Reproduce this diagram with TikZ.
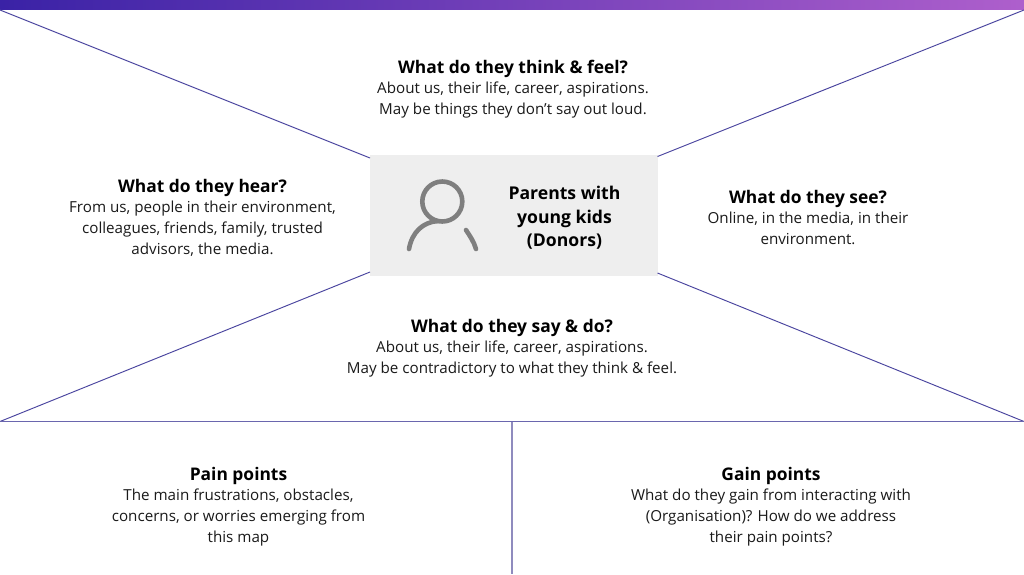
\documentclass[tikz,border=0pt]{standalone}
\usepackage{fontspec}
\setmainfont{Open Sans}
\definecolor{lineblue}{HTML}{4A459F}
\definecolor{rulea}{HTML}{6A66AE}
\definecolor{ruleb}{HTML}{8F8BBE}
\definecolor{barL}{HTML}{3A22A6}
\definecolor{barR}{HTML}{AE5FCC}
\definecolor{boxgray}{HTML}{EEEEEE}
\definecolor{icongray}{HTML}{7F7F7F}
\definecolor{ink}{HTML}{1A1A1A}
\tikzset{
  divider/.style={draw=lineblue,line width=0.95pt},
  blurb/.style={align=center,text=ink,font=\fontsize{15.18}{21}\selectfont,inner sep=0pt},
  iconline/.style={draw=icongray,line width=4.6pt,line cap=round},
}
\newcommand{\hd}[1]{{\fontsize{17.4}{21}\selectfont\bfseries\color{black} #1}\\[-1pt]}
\begin{document}
\begin{tikzpicture}[x=1pt,y=-1pt]
\useasboundingbox (0,0) rectangle (1024,574);
\fill[white] (0,0) rectangle (1024,574);
\shade[left color=barL,right color=barR] (0,0) rectangle (1024,9.5);
\node[fill=boxgray,minimum width=287.5pt,minimum height=121.5pt,inner sep=0pt,anchor=north west] (box) at (370,154.5) {};
\coordinate (tl) at (0,10);
\coordinate (tr) at (1024,10);
\coordinate (ml) at (0,421.5);
\coordinate (mr) at (1024,421.5);
\coordinate (mm) at (512.2,422);
\coordinate (bm) at (512.2,574);
\coordinate (bnw) at (370,158);
\coordinate (bne) at (657.5,156.5);
\coordinate (bsw) at (370,272);
\coordinate (bse) at (657.5,273);
\draw[divider] (tl) -- (bnw);
\draw[divider] (tr) -- (bne);
\draw[divider] (ml) -- (bsw);
\draw[divider] (mr) -- (bse);
\draw[divider,draw=rulea,line width=1.1pt] (ml) -- (mr);
\draw[divider,draw=ruleb,line width=1.7pt] (mm) -- (bm);
% person icon
\draw[iconline] (442.3,201.5) circle (20);
\draw[iconline] (409,249) .. controls (412,232) and (423,222) .. (438,221);
\draw[iconline] (466,230) .. controls (470,236) and (474,242) .. (476,249);
\node[align=center,text=black,inner sep=0pt,font=\fontsize{17.6}{23.5}\selectfont\bfseries] (who) at (564.5,218) {Parents with\\young kids\\(Donors)};
\node[blurb] (think) at (513,89.5) {\hd{What do they think \& feel?}About us, their life, career, aspirations.\\May be things they don’t say out loud.};
\node[blurb] (hear) at (202.5,218) {\hd{What do they hear?}From us, people in their environment,\\colleagues, friends, family, trusted\\advisors, the media.};
\node[blurb] (see) at (808,217.5) {\hd{What do they see?}Online, in the media, in their\\environment.};
\node[blurb] (say) at (512,348.5) {\hd{What do they say \& do?}About us, their life, career, aspirations.\\May be contradictory to what they think \& feel.};
\node[blurb] (pain) at (238.5,506.5) {\hd{Pain points}The main frustrations, obstacles,\\concerns, or worries emerging from\\this map};
\node[blurb] (gain) at (771,506.5) {\hd{Gain points}What do they gain from interacting with\\(Organisation)? How do we address\\their pain points?};
\end{tikzpicture}
\end{document}
